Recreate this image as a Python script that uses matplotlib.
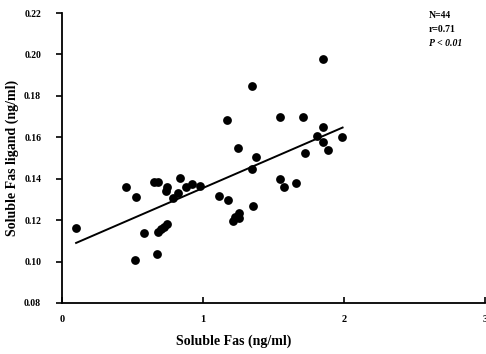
import numpy as np
import matplotlib
matplotlib.use('Agg')
import matplotlib.pyplot as plt

# Soluble Fas (x) vs soluble Fas ligand (y)
fas = [0.10, 0.455, 0.524, 0.52, 0.584, 0.65, 0.68, 0.747, 0.74, 0.674,
       0.678, 0.702, 0.726, 0.745, 0.785, 0.82, 0.84, 0.878, 0.923, 0.982,
       1.117, 1.174, 1.172, 1.215, 1.257, 1.257, 1.248, 1.345, 1.345, 1.378,
       1.355, 1.544, 1.547, 1.575, 1.658, 1.708, 1.724, 1.848, 1.848, 1.812,
       1.848, 1.884, 1.986, 1.23]
fas_ligand = [0.116, 0.136, 0.131, 0.101, 0.114, 0.1386, 0.1386, 0.1362, 0.1342, 0.1035,
              0.1143, 0.1156, 0.1169, 0.1182, 0.1306, 0.1333, 0.1405, 0.1362, 0.1375, 0.1365,
              0.1317, 0.1298, 0.1684, 0.1195, 0.1236, 0.1209, 0.1547, 0.1848, 0.1449, 0.1505,
              0.1268, 0.1697, 0.140, 0.1359, 0.1381, 0.170, 0.1523, 0.1979, 0.1649, 0.1604,
              0.1579, 0.1539, 0.160, 0.1215]

# regression line end points
fit_x = [0.10, 1.99]
fit_y = [0.109, 0.1647]

x_ticks = [0, 1, 2, 3]
y_ticks = [0.08, 0.10, 0.12, 0.14, 0.16, 0.18, 0.20, 0.22]
stats_lines = ['N=44', 'r=0.71', 'P < 0.01']

plt.rcParams['font.family'] = ['Liberation Serif', 'DejaVu Serif']
plt.rcParams['font.weight'] = 'bold'

fig = plt.figure(figsize=(4.86, 3.54), dpi=100)
ax = fig.add_axes([62 / 486, 1 - 303 / 354, (485 - 62) / 486, (303 - 13) / 354])

ax.scatter(fas, fas_ligand, s=40, color='black', zorder=3, linewidths=0)
ax.plot(fit_x, fit_y, color='black', linewidth=1.4)

ax.set_xlim(0, 3)
ax.set_ylim(0.08, 0.22)
ax.set_xticks(x_ticks)
ax.set_xticklabels([str(t) for t in x_ticks])
ax.set_yticks(y_ticks)
ax.set_yticklabels([f'{t:.2f}' for t in y_ticks])

for side in ['top', 'right']:
    ax.spines[side].set_visible(False)
for side in ['left', 'bottom']:
    ax.spines[side].set_linewidth(1.3)

ax.tick_params(axis='y', direction='out', length=4, width=1.2, pad=11, labelsize=7)
ax.tick_params(axis='x', direction='in', length=4, width=1.2, pad=9, labelsize=7.5)
for lab in ax.get_xticklabels() + ax.get_yticklabels():
    lab.set_fontweight('bold')

fig.text(233.5 / 486, 1 - 341 / 354, 'Soluble Fas (ng/ml)', ha='center', va='center',
         fontsize=10, fontweight='bold')
fig.text(12 / 486, 1 - 158 / 354, 'Soluble Fas ligand (ng/ml)', ha='center', va='center',
         rotation=90, fontsize=10, fontweight='bold')

for i, line in enumerate(stats_lines):
    fig.text(429 / 486, 1 - (15 + 14 * i) / 354, line, ha='left', va='center',
             fontsize=7, fontweight='bold', style='italic' if line.startswith('P') else 'normal')

plt.savefig('out.png', dpi=100)
